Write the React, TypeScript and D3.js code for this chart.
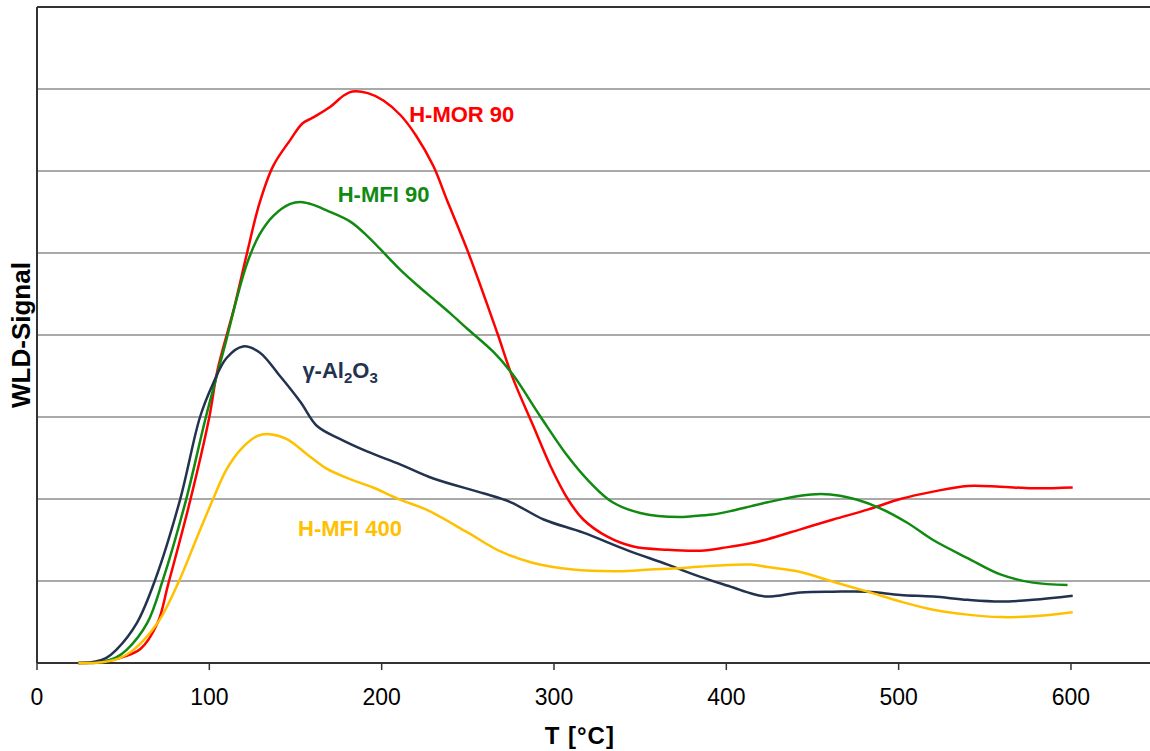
import React from "react";
import * as d3 from "d3";

const xTicks = [0, 100, 200, 300, 400, 500, 600];
const yGrid = [1, 2, 3, 4, 5, 6, 7, 8];

// [T (°C), WLD signal (grid units)]
const hMor90: [number, number][] = [
  [24, 0], [36, 0.01], [48, 0.06], [60, 0.17], [70, 0.49], [76, 0.95], [89, 1.99], [100, 3.0], [104.5, 3.55],
  [111, 4.07], [114, 4.3], [122, 5.01], [129, 5.6], [137, 6.06], [147, 6.38], [154, 6.58], [160, 6.65],
  [170, 6.78], [178, 6.92], [183, 6.97], [192, 6.95], [201, 6.86], [211, 6.68], [220, 6.43], [230, 6.06],
  [238, 5.64], [250, 5.02], [267, 4.03], [276, 3.48], [288, 2.89], [298, 2.4], [308, 2.0], [317, 1.75],
  [331, 1.54], [346, 1.42], [366, 1.38], [385, 1.37], [400, 1.41], [414, 1.46], [424, 1.51], [443, 1.63],
  [462, 1.75], [482, 1.87], [501, 2.0], [520, 2.09], [540, 2.16], [559, 2.15], [578, 2.13], [601, 2.14],
];

const hMfi90: [number, number][] = [
  [24, 0], [36, 0.01], [46, 0.07], [52, 0.16], [64, 0.49], [73, 1.01], [86.5, 1.99], [98, 3.0], [110, 3.95],
  [116, 4.45], [122, 4.88], [129, 5.22], [137, 5.45], [147, 5.6], [154, 5.62], [160, 5.59], [168, 5.52],
  [182, 5.38], [192, 5.2], [205, 4.92], [211, 4.79], [221, 4.6], [230, 4.44], [240, 4.26], [250, 4.07],
  [265, 3.79], [276, 3.52], [292, 3.01], [308, 2.52], [321, 2.2], [334, 1.96], [350, 1.83], [373, 1.78],
  [385, 1.8], [392, 1.81], [404, 1.86], [414, 1.91], [424, 1.96], [443, 2.04], [455, 2.06], [466, 2.04], [476, 1.99],
  [489, 1.89], [505, 1.71], [520, 1.5], [540, 1.28], [559, 1.08], [578, 0.98], [598, 0.95],
];

const alumina: [number, number][] = [
  [24, 0], [34, 0.02], [40, 0.06], [46, 0.16], [58, 0.49], [68.5, 1.01], [83, 1.99], [94.6, 3.0], [102, 3.4],
  [110, 3.72], [119.5, 3.86], [129, 3.79], [141, 3.5], [153, 3.18], [162.5, 2.89], [176, 2.73],
  [191.5, 2.58], [211, 2.42], [230, 2.25], [259, 2.07], [275, 1.96], [294, 1.75], [317, 1.59],
  [342, 1.38], [366, 1.2], [385, 1.05], [404, 0.92], [414, 0.85], [424, 0.81], [443, 0.86],
  [462, 0.87], [482, 0.87], [501, 0.83], [520, 0.81], [540, 0.77], [559, 0.75], [578, 0.77], [601, 0.82],
];

const hMfi400: [number, number][] = [
  [24, 0], [38, 0.01], [48, 0.06], [56, 0.16], [70, 0.49], [82, 0.98], [93, 1.54], [102, 1.99], [110, 2.36],
  [118, 2.6], [128, 2.77], [135, 2.79], [145, 2.73], [157, 2.54], [168, 2.37], [182, 2.24], [195, 2.14],
  [211, 1.99], [226, 1.87], [250, 1.59], [269, 1.36], [288, 1.22], [311, 1.14], [337, 1.12], [356, 1.14],
  [375, 1.16], [395, 1.19], [414, 1.2], [424, 1.17], [443, 1.11], [462, 0.99], [482, 0.87], [501, 0.75],
  [520, 0.65], [540, 0.59], [559, 0.56], [578, 0.57], [601, 0.62],
];

const seriesList = [
  { name: "H-MOR 90", data: hMor90, color: "#ff0000", lx: 216, ly: 6.6 },
  { name: "H-MFI 90", data: hMfi90, color: "#118a11", lx: 174.5, ly: 5.62 },
  { name: "γ-Al2O3", data: alumina, color: "#22324f", lx: 154, ly: 3.47 },
  { name: "H-MFI 400", data: hMfi400, color: "#ffc000", lx: 151.5, ly: 1.55 },
];

const W = 1150;
const H = 751;
const left = 37;
const top = 7;
const bottom = 663;

export default function App() {
  const x = d3.scaleLinear().domain([0, 650]).range([left, left + 650 * 1.7233]);
  const y = d3.scaleLinear().domain([0, 8]).range([bottom, top]);
  const line = d3
    .line<[number, number]>()
    .x((d) => x(d[0]))
    .y((d) => y(d[1]))
    .curve(d3.curveCatmullRom.alpha(0.5));

  const font = "'Liberation Sans', Arial, sans-serif";

  return (
    <div style={{ position: "fixed", left: 0, top: 0 }}>
      <svg width={W} height={H} style={{ display: "block", background: "#fff" }} fontFamily={font}>
        {yGrid.map((g) => (
          <line
            key={g}
            x1={left}
            x2={W}
            y1={y(g)}
            y2={y(g)}
            stroke={g === 8 ? "#333" : "#8c8c8c"}
            strokeWidth={g === 8 ? 2 : 1.3}
          />
        ))}
        <line x1={left} x2={left} y1={top} y2={bottom} stroke="#333" strokeWidth={2} />
        <line x1={left} x2={W} y1={bottom} y2={bottom} stroke="#333" strokeWidth={2} />
        {xTicks.map((t) => (
          <g key={t}>
            <line x1={x(t)} x2={x(t)} y1={bottom} y2={bottom + 7} stroke="#333" strokeWidth={1.5} />
            <text x={x(t)} y={bottom + 42} textAnchor="middle" fontSize={23} fill="#000">
              {t}
            </text>
          </g>
        ))}
        {seriesList.map((s) => (
          <path
            key={s.name}
            d={line(s.data) || ""}
            fill="none"
            stroke={s.color}
            strokeWidth={2.5}
            strokeLinejoin="round"
          />
        ))}
        {seriesList.map((s) =>
          s.name === "γ-Al2O3" ? (
            <text key={s.name} x={x(s.lx)} y={y(s.ly)} fontSize={22} fontWeight="bold" fill={s.color}>
              γ-Al
              <tspan fontSize={15} dy={5}>2</tspan>
              <tspan dy={-5}>O</tspan>
              <tspan fontSize={15} dy={5}>3</tspan>
            </text>
          ) : (
            <text key={s.name} x={x(s.lx)} y={y(s.ly)} fontSize={22} fontWeight="bold" fill={s.color}>
              {s.name}
            </text>
          )
        )}
        <text x={x(315)} y={744} textAnchor="middle" fontSize={24} fontWeight="bold" letterSpacing={1} fill="#000">
          T [°C]
        </text>
        <text
          transform={`translate(30, ${(top + bottom) / 2}) rotate(-90)`}
          textAnchor="middle"
          fontSize={26}
          fontWeight="bold"
          fill="#000"
        >
          WLD-Signal
        </text>
      </svg>
    </div>
  );
}
